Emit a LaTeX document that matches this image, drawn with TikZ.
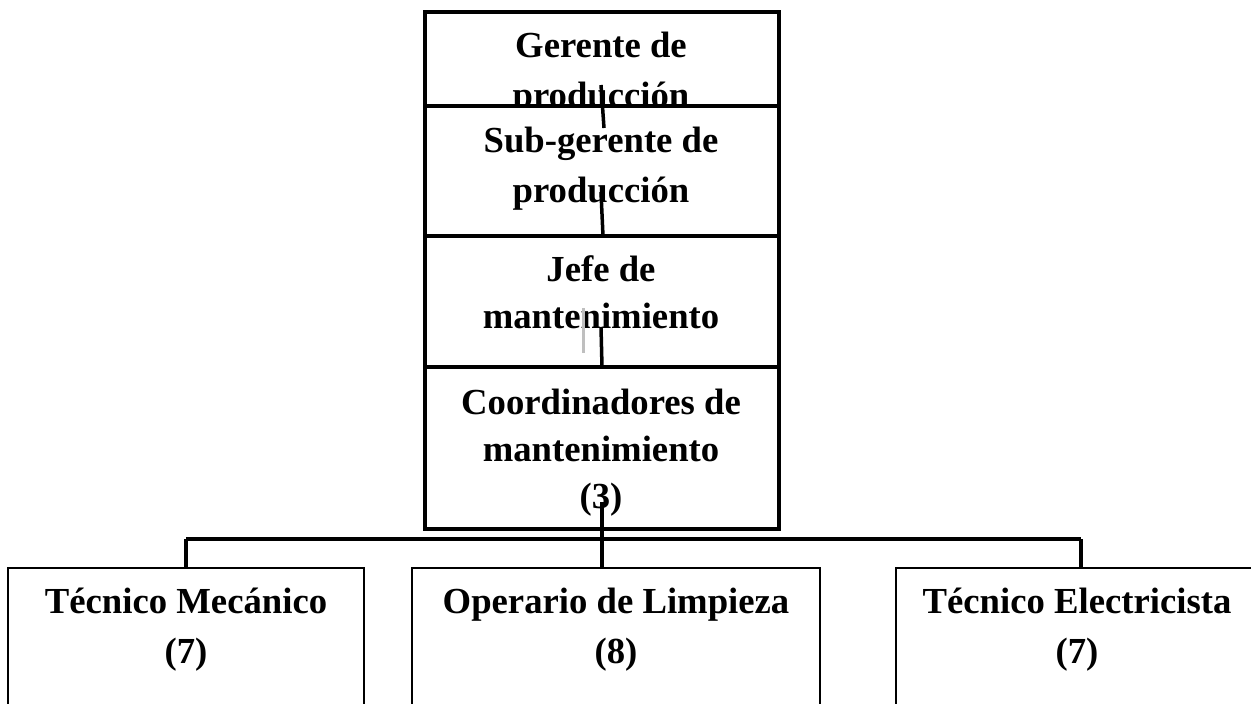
\documentclass[tikz,border=0pt]{standalone}
\usepackage{fontspec}
\setmainfont{Liberation Serif}
\begin{document}
\begin{tikzpicture}[x=1pt,y=-1pt,
  stackbox/.style={draw=black,line width=4pt,fill=white,rectangle,inner sep=0pt,outer sep=0pt,anchor=north west},
  lowbox/.style={draw=black,line width=2pt,fill=white,rectangle,inner sep=0pt,outer sep=0pt,anchor=north west},
  lbl/.style={font=\fontsize{36.7}{47}\selectfont\bfseries,align=center,inner sep=0pt,anchor=base},
  conn/.style={draw=black,line width=3.5pt}]
\useasboundingbox (0,0) rectangle (1251,704);
\begin{scope}
\clip (0,0) rectangle (1251,704);
% top stack
\node[stackbox,minimum width=354pt,minimum height=94pt] (G) at (425,12) {};
\node[lbl,font=\fontsize{36.7}{50}\selectfont\bfseries] (Gt) at (601,107) {Gerente de\\producción};
\node[stackbox,minimum width=354pt,minimum height=130pt] (S) at (425,106) {};
\node[lbl,font=\fontsize{36.7}{50}\selectfont\bfseries] (St) at (601,202) {Sub-gerente de\\producción};
\node[stackbox,minimum width=354pt,minimum height=131pt] (J) at (425,236) {};
\node[lbl] (Jt) at (601,328) {Jefe de\\mantenimiento};
\node[stackbox,minimum width=354pt,minimum height=162pt] (C) at (425,367) {};
\node[lbl] (Ct) at (601,508) {Coordinadores de\\mantenimiento\\(3)};
% bottom boxes
\node[lowbox,minimum width=356pt,minimum height=160pt] (L) at (8,568) {};
\node[lbl,font=\fontsize{36.7}{50}\selectfont\bfseries] (Lt) at (186,663) {Técnico Mecánico\\(7)};
\node[lowbox,minimum width=408pt,minimum height=160pt] (M) at (412,568) {};
\node[lbl,font=\fontsize{36.7}{50}\selectfont\bfseries] (Mt) at (616,663) {Operario de Limpieza\\(8)};
\node[lowbox,minimum width=370pt,minimum height=160pt] (R) at (896,568) {};
\node[lbl,font=\fontsize{36.7}{50}\selectfont\bfseries] (Rt) at (1077,663) {Técnico Electricista\\(7)};
% connectors
\draw[conn] ([xshift=-1pt,yshift=21pt]G.south) -- ([xshift=2pt,yshift=-22pt]S.north);
\draw[conn] ([xshift=-1pt,yshift=44pt]S.south) -- ([xshift=1pt]S.south);
\draw[conn] ([xshift=-1pt,yshift=40pt]J.south) -- (J.south);
\draw[gray!50,line width=3pt] (583,308) -- (583,353);
\coordinate (hub) at ([yshift=-10pt]C.south);
\draw[conn] ([yshift=27pt]C.south) -- (hub);
\draw[conn] (hub -| L.north) -- (hub -| R.north);
\draw[conn] (hub -| L.north) -- (L.north);
\draw[conn] (hub) -- (M.north -| hub);
\draw[conn] (hub -| R.north) -- (R.north);
\end{scope}
\end{tikzpicture}
\end{document}
